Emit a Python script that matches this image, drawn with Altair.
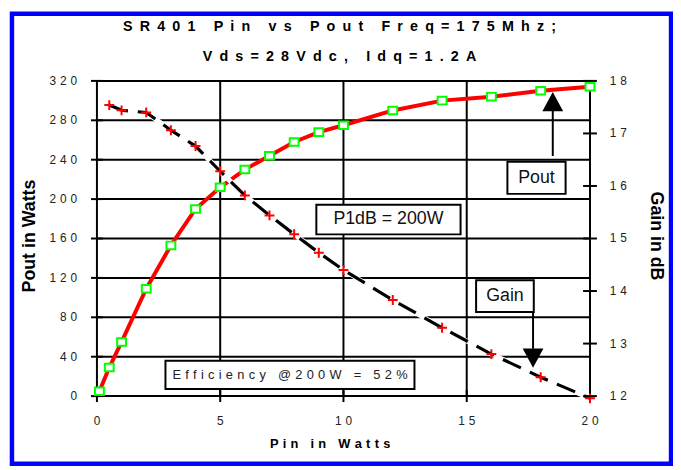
import altair as alt
import pandas as pd

# ---------------- data ----------------
pin_pout = [0.1, 0.5, 1, 2, 3, 4, 5, 6, 7, 8, 9, 10, 12, 14, 16, 18, 20]
pout_w = [5, 29, 55, 109, 153, 190, 212, 230, 244, 258, 268, 275, 290, 300, 304, 310, 314]

pin_gain = [0.5, 1, 2, 3, 4, 5, 6, 7, 8, 9, 10, 12, 14, 16, 18, 20]
gain_db = [17.54, 17.44, 17.40, 17.06, 16.76, 16.28, 15.82, 15.44, 15.08,
           14.73, 14.40, 13.83, 13.30, 12.80, 12.36, 11.96]

x_ticks = [0, 5, 10, 15, 20]
pout_ticks = [0, 40, 80, 120, 160, 200, 240, 280, 320]
gain_ticks = [12, 13, 14, 15, 16, 17, 18]

title_lines = ["SR401 Pin vs Pout Freq=175Mhz;", "Vds=28Vdc, Idq=1.2A"]
x_title = "Pin in Watts"
y_left_title = "Pout in Watts"
y_right_title = "Gain in dB"

# annotation boxes (in data units: Pin, Pout)
box_labels = ["P1dB = 200W", "Pout", "Gain"]
box_x0 = [8.90, 16.65, 15.38]
box_x1 = [14.75, 19.01, 17.72]
box_y0 = [164.2, 205.3, 85.5]
box_y1 = [194.3, 238.0, 117.6]

eff_label = ["Efficiency @200W = 52%"]
eff_x0 = [2.78]
eff_x1 = [12.88]
eff_y0 = [7.3]
eff_y1 = [35.8]

# arrows: Pout (pointing up) and Gain (pointing down)
up_x = [18.49]
up_from = [243.8]
up_to = [290.0]
up_head = [299.0]
down_x = [17.69]
down_from = [85.5]
down_to = [48.1]
down_head = [38.6]

# ---------------- helpers ----------------
FONT = "Liberation Sans"
SP_TITLE = "\u2002"
SP_LABEL = "\u2004"
X_MIN, X_MAX = 0, 20
P_MIN, P_MAX = 0, 320
G_MIN, G_MAX = 12, 18


def spaced(text, sep):
    return sep.join(text)


xs = alt.Scale(domain=[X_MIN, X_MAX], nice=False, zero=False)
yl = alt.Scale(domain=[P_MIN, P_MAX], nice=False, zero=False)
yr = alt.Scale(domain=[G_MIN, G_MAX], nice=False, zero=False)

pout_df = pd.DataFrame({"pin": pin_pout, "pout": pout_w})
gain_df = pd.DataFrame({"pin": pin_gain, "gain": gain_db})
xt_df = pd.DataFrame({"pin": x_ticks, "lo": P_MIN, "hi": P_MAX,
                      "lab": [spaced(str(v), SP_LABEL) for v in x_ticks]})
yt_df = pd.DataFrame({"pout": pout_ticks, "lo": X_MIN, "hi": X_MAX,
                      "lab": [spaced(str(v), SP_LABEL) for v in pout_ticks]})
gt_df = pd.DataFrame({"gain": gain_ticks, "xr": X_MAX,
                      "lab": [spaced(str(v), SP_LABEL) for v in gain_ticks]})

box_df = pd.DataFrame({"label": box_labels, "x0": box_x0, "x1": box_x1,
                       "y0": box_y0, "y1": box_y1})
box_df["xc"] = (box_df["x0"] + box_df["x1"]) / 2
box_df["yc"] = (box_df["y0"] + box_df["y1"]) / 2

eff_df = pd.DataFrame({"label": [spaced(t, SP_LABEL) for t in eff_label],
                       "x0": eff_x0, "x1": eff_x1, "y0": eff_y0, "y1": eff_y1})
eff_df["xc"] = (eff_df["x0"] + eff_df["x1"]) / 2
eff_df["yc"] = (eff_df["y0"] + eff_df["y1"]) / 2

up_df = pd.DataFrame({"x": up_x, "y0": up_from, "y1": up_to, "h": up_head})
down_df = pd.DataFrame({"x": down_x, "y0": down_from, "y1": down_to, "h": down_head})


def text_item(txt, x, y, size, angle=0):
    return alt.Chart(pd.DataFrame({"t": [txt]})).mark_text(
        font=FONT, fontSize=size, fontWeight="bold",
        color="black", align="center", baseline="middle", angle=angle
    ).encode(x=alt.value(x), y=alt.value(y), text="t:N")


def X(field, axis=None):
    return alt.X(field, type="quantitative", scale=xs, axis=axis)


def YL(field, axis=None):
    return alt.Y(field, type="quantitative", scale=yl, axis=axis)


def YR(field, axis=None):
    return alt.Y(field, type="quantitative", scale=yr, axis=axis)


plain_axis_l = alt.Axis(orient="left", labels=False, ticks=False, grid=False,
                        title=None, domain=True, domainColor="black", domainWidth=2)
plain_axis_r = alt.Axis(orient="right", labels=False, ticks=False, grid=False,
                        title=None, domain=True, domainColor="black", domainWidth=2)
plain_axis_x = alt.Axis(orient="bottom", labels=False, ticks=False, grid=False,
                        title=None, domain=True, domainColor="black", domainWidth=2)

# ---------------- frame, titles ----------------
frame = alt.Chart(pd.DataFrame({"a": [0]})).mark_rect(
    filled=False, stroke="#0000FF", strokeWidth=4.5
).encode(
    x=alt.value(-86), x2=alt.value(581), y=alt.value(-68), y2=alt.value(387.5)
)

title1 = text_item(spaced(title_lines[0], SP_TITLE), 245.5, -54, 14.5)
title2 = text_item(spaced(title_lines[1], SP_TITLE), 245.5, -24, 14.5)
xtitle = text_item(spaced(x_title, SP_LABEL), 236, 368, 13)
yltitle = text_item(y_left_title, -68, 157, 18, angle=270)
yrtitle = text_item(y_right_title, 566, 157, 18, angle=90)

# ---------------- grid and ticks ----------------
vgrid = alt.Chart(xt_df).mark_rule(color="black", strokeWidth=2).encode(
    x=X("pin"), y=YL("lo"), y2="hi:Q",
)
hgrid = alt.Chart(yt_df).mark_rule(color="black", strokeWidth=2).encode(
    y=YL("pout"), x=X("lo"), x2="hi:Q",
)
lticks = alt.Chart(yt_df).mark_tick(
    orient="horizontal", color="black", size=12, thickness=2, opacity=1
).encode(x=X("lo"), y=YL("pout"))
bticks = alt.Chart(xt_df).mark_tick(
    orient="vertical", color="black", size=12, thickness=2, opacity=1
).encode(x=X("pin"), y=YL("lo"))

# ---------------- Pout series ----------------
pout_line = alt.Chart(pout_df).mark_line(color="#FF0000", strokeWidth=4).encode(
    x=X("pin", plain_axis_x), y=YL("pout", plain_axis_l),
)
square_path = "M-1,-0.85L1,-0.85L1,0.85L-1,0.85Z"
pout_pts = alt.Chart(pout_df).mark_point(
    shape=square_path, filled=True, fill="white", stroke="#00FF00",
    strokeWidth=2, size=81, opacity=1
).encode(x=X("pin"), y=YL("pout"))

# ---------------- tick labels ----------------
xlabels = alt.Chart(xt_df).mark_text(
    font=FONT, fontSize=12, color="#222", align="center", baseline="middle", dy=25
).encode(x=X("pin"), y=YL("lo"), text="lab:N")
ylabels = alt.Chart(yt_df).mark_text(
    font=FONT, fontSize=12, color="#222", align="right", baseline="middle", dx=-20
).encode(x=X("lo"), y=YL("pout"), text="lab:N")

# ---------------- annotations ----------------
boxes = alt.Chart(box_df).mark_rect(fill="white", stroke="black", strokeWidth=2).encode(
    x=X("x0"), x2="x1:Q", y=YL("y0"), y2="y1:Q",
)
box_text = alt.Chart(box_df).mark_text(
    font=FONT, fontSize=18, color="#111", align="center", baseline="middle"
).encode(x=X("xc"), y=YL("yc"), text="label:N")
eff_box = alt.Chart(eff_df).mark_rect(fill="white", stroke="black", strokeWidth=2).encode(
    x=X("x0"), x2="x1:Q", y=YL("y0"), y2="y1:Q",
)
eff_text = alt.Chart(eff_df).mark_text(
    font=FONT, fontSize=13, color="#222", align="center", baseline="middle"
).encode(x=X("xc"), y=YL("yc"), text="label:N")

up_shaft = alt.Chart(up_df).mark_rule(color="black", strokeWidth=2).encode(
    x=X("x"), y=YL("y0"), y2="y1:Q",
)
up_headm = alt.Chart(up_df).mark_point(
    shape="M0,-0.92L1,0.92L-1,0.92Z", filled=True, color="black", size=441, opacity=1
).encode(x=X("x"), y=YL("h"))
down_shaft = alt.Chart(down_df).mark_rule(color="black", strokeWidth=2).encode(
    x=X("x"), y=YL("y0"), y2="y1:Q",
)
down_headm = alt.Chart(down_df).mark_point(
    shape="M0,0.92L1,-0.92L-1,-0.92Z", filled=True, color="black", size=441, opacity=1
).encode(x=X("x"), y=YL("h"))

# ---------------- Gain series (right axis) ----------------
gain_under = alt.Chart(gain_df).mark_line(color="white", strokeWidth=5).encode(
    x=X("pin"), y=YR("gain", plain_axis_r),
)
gain_line = alt.Chart(gain_df).mark_line(
    color="black", strokeWidth=3.2, strokeDash=[20, 10]
).encode(x=X("pin"), y=YR("gain"))
gain_pts = alt.Chart(gain_df).mark_point(
    shape="M-1,0L1,0M0,-1L0,1", filled=False, stroke="#FF0000",
    strokeWidth=2, size=100, opacity=1
).encode(x=X("pin"), y=YR("gain"))
gain_tick_marks = alt.Chart(gt_df).mark_tick(
    orient="horizontal", color="black", size=14, thickness=2, opacity=1
).encode(x=X("xr"), y=YR("gain"))
rlabels = alt.Chart(gt_df).mark_text(
    font=FONT, fontSize=12, color="#222", align="left", baseline="middle", dx=20
).encode(x=X("xr"), y=YR("gain"), text="lab:N")

left = alt.layer(
    frame, title1, title2, xtitle, yltitle, yrtitle,
    vgrid, hgrid, lticks, bticks, pout_line, xlabels, ylabels,
    boxes, box_text, eff_box, eff_text,
    up_shaft, up_headm, down_shaft, down_headm, pout_pts,
)
right = alt.layer(gain_under, gain_line, gain_pts, gain_tick_marks, rlabels)

chart = alt.layer(left, right).resolve_scale(y="independent").properties(
    width=499, height=319,
    autosize=alt.AutoSizeParams(type="none"),
    padding={"left": 90, "top": 71, "right": 84, "bottom": 72},
).configure(background="white", view=alt.ViewConfig(stroke=None))

chart.save("out.html", embed_options={"renderer": "svg", "actions": False})
